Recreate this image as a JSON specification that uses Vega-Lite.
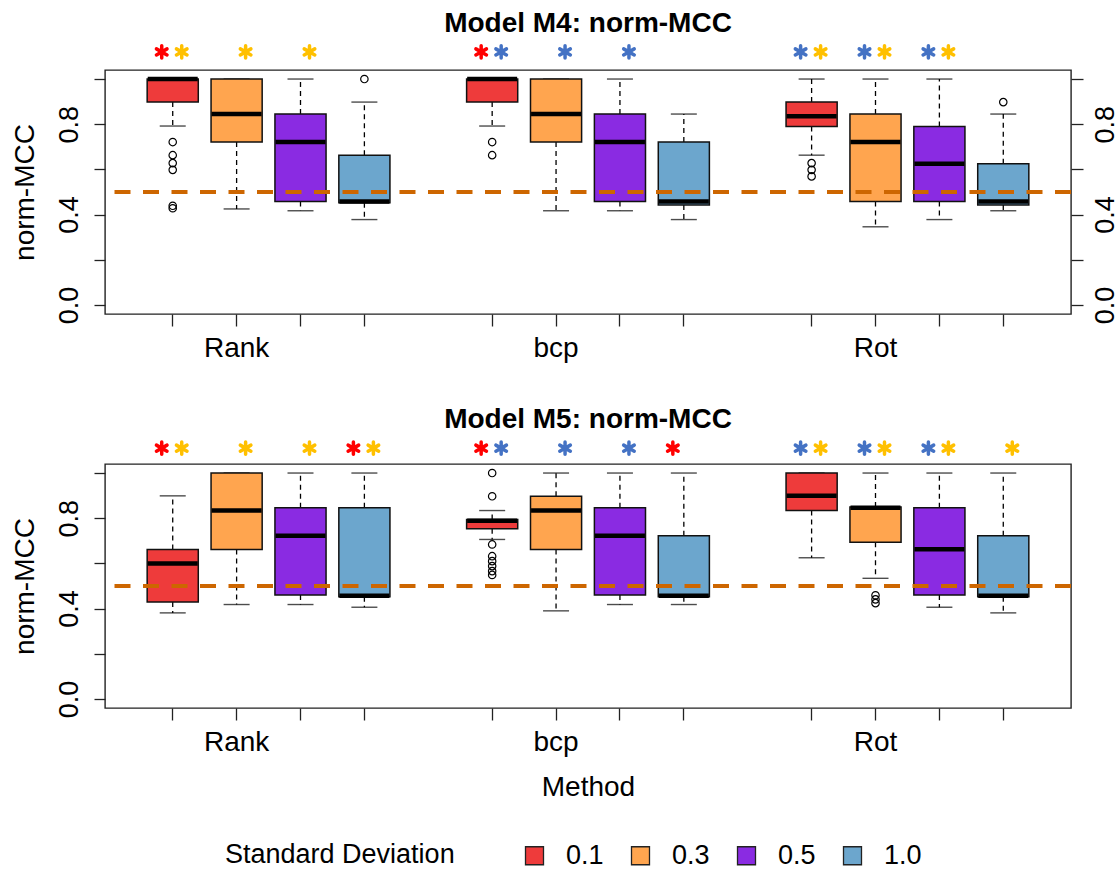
{
  "$schema": "https://vega.github.io/schema/vega-lite/v6.json",
  "padding": {"left": 10, "top": 9, "right": 0, "bottom": 0},
  "background": "white",
  "config": {
    "font": "Liberation Sans",
    "view": {"stroke": "#222222", "strokeWidth": 1.4},
    "axis": {"grid": false, "domain": false, "tickColor": "#222222", "tickWidth": 1.3, "labelColor": "black", "titleColor": "black", "titleFontWeight": "normal"}
  },
  "datasets": {
    "stats": [
      {"model": "M4", "method": "Rank", "sd": "0.1", "lo": 0.792, "q1": 0.898, "med": 1.0, "q3": 1.0, "hi": 1.0},
      {"model": "M4", "method": "Rank", "sd": "0.3", "lo": 0.425, "q1": 0.721, "med": 0.845, "q3": 1.0, "hi": 1.0},
      {"model": "M4", "method": "Rank", "sd": "0.5", "lo": 0.417, "q1": 0.458, "med": 0.721, "q3": 0.845, "hi": 1.0},
      {"model": "M4", "method": "Rank", "sd": "1.0", "lo": 0.378, "q1": 0.452, "med": 0.458, "q3": 0.663, "hi": 0.898},
      {"model": "M4", "method": "bcp", "sd": "0.1", "lo": 0.792, "q1": 0.898, "med": 1.0, "q3": 1.0, "hi": 1.0},
      {"model": "M4", "method": "bcp", "sd": "0.3", "lo": 0.417, "q1": 0.721, "med": 0.845, "q3": 1.0, "hi": 1.0},
      {"model": "M4", "method": "bcp", "sd": "0.5", "lo": 0.417, "q1": 0.458, "med": 0.721, "q3": 0.845, "hi": 1.0},
      {"model": "M4", "method": "bcp", "sd": "1.0", "lo": 0.378, "q1": 0.442, "med": 0.458, "q3": 0.721, "hi": 0.845},
      {"model": "M4", "method": "Rot", "sd": "0.1", "lo": 0.663, "q1": 0.79, "med": 0.835, "q3": 0.898, "hi": 1.0},
      {"model": "M4", "method": "Rot", "sd": "0.3", "lo": 0.346, "q1": 0.458, "med": 0.721, "q3": 0.845, "hi": 1.0},
      {"model": "M4", "method": "Rot", "sd": "0.5", "lo": 0.378, "q1": 0.458, "med": 0.625, "q3": 0.79, "hi": 1.0},
      {"model": "M4", "method": "Rot", "sd": "1.0", "lo": 0.417, "q1": 0.442, "med": 0.458, "q3": 0.625, "hi": 0.845},
      {"model": "M5", "method": "Rank", "sd": "0.1", "lo": 0.381, "q1": 0.429, "med": 0.6, "q3": 0.662, "hi": 0.899},
      {"model": "M5", "method": "Rank", "sd": "0.3", "lo": 0.418, "q1": 0.662, "med": 0.834, "q3": 1.0, "hi": 1.0},
      {"model": "M5", "method": "Rank", "sd": "0.5", "lo": 0.418, "q1": 0.46, "med": 0.722, "q3": 0.846, "hi": 1.0},
      {"model": "M5", "method": "Rank", "sd": "1.0", "lo": 0.406, "q1": 0.452, "med": 0.457, "q3": 0.846, "hi": 1.0},
      {"model": "M5", "method": "bcp", "sd": "0.1", "lo": 0.706, "q1": 0.753, "med": 0.789, "q3": 0.794, "hi": 0.834},
      {"model": "M5", "method": "bcp", "sd": "0.3", "lo": 0.39, "q1": 0.662, "med": 0.834, "q3": 0.897, "hi": 1.0},
      {"model": "M5", "method": "bcp", "sd": "0.5", "lo": 0.418, "q1": 0.46, "med": 0.722, "q3": 0.846, "hi": 1.0},
      {"model": "M5", "method": "bcp", "sd": "1.0", "lo": 0.418, "q1": 0.452, "med": 0.457, "q3": 0.722, "hi": 1.0},
      {"model": "M5", "method": "Rot", "sd": "0.1", "lo": 0.625, "q1": 0.834, "med": 0.899, "q3": 1.0, "hi": 1.0},
      {"model": "M5", "method": "Rot", "sd": "0.3", "lo": 0.534, "q1": 0.694, "med": 0.846, "q3": 0.85, "hi": 1.0},
      {"model": "M5", "method": "Rot", "sd": "0.5", "lo": 0.406, "q1": 0.46, "med": 0.663, "q3": 0.846, "hi": 1.0},
      {"model": "M5", "method": "Rot", "sd": "1.0", "lo": 0.381, "q1": 0.452, "med": 0.457, "q3": 0.722, "hi": 1.0}
    ],
    "outliers": [
      {"model": "M4", "method": "Rank", "sd": "0.1", "v": 0.721},
      {"model": "M4", "method": "Rank", "sd": "0.1", "v": 0.663},
      {"model": "M4", "method": "Rank", "sd": "0.1", "v": 0.628},
      {"model": "M4", "method": "Rank", "sd": "0.1", "v": 0.598},
      {"model": "M4", "method": "Rank", "sd": "0.1", "v": 0.439},
      {"model": "M4", "method": "Rank", "sd": "0.1", "v": 0.428},
      {"model": "M4", "method": "Rank", "sd": "1.0", "v": 1.0},
      {"model": "M4", "method": "bcp", "sd": "0.1", "v": 0.721},
      {"model": "M4", "method": "bcp", "sd": "0.1", "v": 0.663},
      {"model": "M4", "method": "Rot", "sd": "0.1", "v": 0.628},
      {"model": "M4", "method": "Rot", "sd": "0.1", "v": 0.598},
      {"model": "M4", "method": "Rot", "sd": "0.1", "v": 0.569},
      {"model": "M4", "method": "Rot", "sd": "1.0", "v": 0.898},
      {"model": "M5", "method": "bcp", "sd": "0.1", "v": 1.0},
      {"model": "M5", "method": "bcp", "sd": "0.1", "v": 0.897},
      {"model": "M5", "method": "bcp", "sd": "0.1", "v": 0.684},
      {"model": "M5", "method": "bcp", "sd": "0.1", "v": 0.632},
      {"model": "M5", "method": "bcp", "sd": "0.1", "v": 0.61},
      {"model": "M5", "method": "bcp", "sd": "0.1", "v": 0.588},
      {"model": "M5", "method": "bcp", "sd": "0.1", "v": 0.566},
      {"model": "M5", "method": "bcp", "sd": "0.1", "v": 0.549},
      {"model": "M5", "method": "Rot", "sd": "0.3", "v": 0.459},
      {"model": "M5", "method": "Rot", "sd": "0.3", "v": 0.441},
      {"model": "M5", "method": "Rot", "sd": "0.3", "v": 0.424}
    ],
    "stars": [
      {"model": "M4", "method": "Rank", "sd": "0.1", "slot": "L", "group": "red"},
      {"model": "M4", "method": "Rank", "sd": "0.1", "slot": "R", "group": "gold"},
      {"model": "M4", "method": "Rank", "sd": "0.3", "slot": "R", "group": "gold"},
      {"model": "M4", "method": "Rank", "sd": "0.5", "slot": "R", "group": "gold"},
      {"model": "M4", "method": "bcp", "sd": "0.1", "slot": "L", "group": "red"},
      {"model": "M4", "method": "bcp", "sd": "0.1", "slot": "R", "group": "blue"},
      {"model": "M4", "method": "bcp", "sd": "0.3", "slot": "R", "group": "blue"},
      {"model": "M4", "method": "bcp", "sd": "0.5", "slot": "R", "group": "blue"},
      {"model": "M4", "method": "Rot", "sd": "0.1", "slot": "L", "group": "blue"},
      {"model": "M4", "method": "Rot", "sd": "0.1", "slot": "R", "group": "gold"},
      {"model": "M4", "method": "Rot", "sd": "0.3", "slot": "L", "group": "blue"},
      {"model": "M4", "method": "Rot", "sd": "0.3", "slot": "R", "group": "gold"},
      {"model": "M4", "method": "Rot", "sd": "0.5", "slot": "L", "group": "blue"},
      {"model": "M4", "method": "Rot", "sd": "0.5", "slot": "R", "group": "gold"},
      {"model": "M5", "method": "Rank", "sd": "0.1", "slot": "L", "group": "red"},
      {"model": "M5", "method": "Rank", "sd": "0.1", "slot": "R", "group": "gold"},
      {"model": "M5", "method": "Rank", "sd": "0.3", "slot": "R", "group": "gold"},
      {"model": "M5", "method": "Rank", "sd": "0.5", "slot": "R", "group": "gold"},
      {"model": "M5", "method": "Rank", "sd": "1.0", "slot": "L", "group": "red"},
      {"model": "M5", "method": "Rank", "sd": "1.0", "slot": "R", "group": "gold"},
      {"model": "M5", "method": "bcp", "sd": "0.1", "slot": "L", "group": "red"},
      {"model": "M5", "method": "bcp", "sd": "0.1", "slot": "R", "group": "blue"},
      {"model": "M5", "method": "bcp", "sd": "0.3", "slot": "R", "group": "blue"},
      {"model": "M5", "method": "bcp", "sd": "0.5", "slot": "R", "group": "blue"},
      {"model": "M5", "method": "bcp", "sd": "1.0", "slot": "L", "group": "red"},
      {"model": "M5", "method": "Rot", "sd": "0.1", "slot": "L", "group": "blue"},
      {"model": "M5", "method": "Rot", "sd": "0.1", "slot": "R", "group": "gold"},
      {"model": "M5", "method": "Rot", "sd": "0.3", "slot": "L", "group": "blue"},
      {"model": "M5", "method": "Rot", "sd": "0.3", "slot": "R", "group": "gold"},
      {"model": "M5", "method": "Rot", "sd": "0.5", "slot": "L", "group": "blue"},
      {"model": "M5", "method": "Rot", "sd": "0.5", "slot": "R", "group": "gold"},
      {"model": "M5", "method": "Rot", "sd": "1.0", "slot": "R", "group": "gold"}
    ]
  },
  "bounds": "flush",
  "spacing": 150,
  "vconcat": [
    {
      "width": 966,
      "height": 244,
      "title": {"text": "Model M4: norm-MCC", "fontSize": 28, "fontWeight": "bold", "anchor": "middle", "frame": "group", "baseline": "alphabetic", "offset": -21, "color": "black"},
      "resolve": {"axis": {"y": "independent"}},
      "layer": [
        {
          "data": {"name": "stats"},
          "transform": [{"filter": "datum.model == 'M4'"}, {"calculate": "datum.method + ' ' + datum.sd", "as": "key"}],
          "mark": {"type": "rule", "color": "black", "strokeWidth": 1.3, "strokeDash": [5, 4]},
          "encoding": {
            "x": {"field": "key", "type": "nominal", "scale": {"domain": ["Rank 0.1", "Rank 0.3", "Rank 0.5", "Rank 1.0", "gap1", "bcp 0.1", "bcp 0.3", "bcp 0.5", "bcp 1.0", "gap2", "Rot 0.1", "Rot 0.3", "Rot 0.5", "Rot 1.0"], "paddingInner": 0, "paddingOuter": 0.56}, "axis": {"values": ["Rank 0.1", "Rank 0.3", "Rank 0.5", "Rank 1.0", "bcp 0.1", "bcp 0.3", "bcp 0.5", "bcp 1.0", "Rot 0.1", "Rot 0.3", "Rot 0.5", "Rot 1.0"], "labelExpr": "datum.value == 'Rank 0.3' ? 'Rank' : datum.value == 'bcp 0.3' ? 'bcp' : datum.value == 'Rot 0.3' ? 'Rot' : ''", "title": null, "tickSize": 12, "labelPadding": 30, "labelBaseline": "alphabetic", "labelAngle": 0, "labelFontSize": 28}},
            "y": {"field": "q3", "type": "quantitative", "scale": {"domain": [-0.04, 1.04], "nice": false, "zero": false}, "axis": null},
            "y2": {"field": "hi"}
          }
        },
        {
          "data": {"name": "stats"},
          "transform": [{"filter": "datum.model == 'M4'"}, {"calculate": "datum.method + ' ' + datum.sd", "as": "key"}],
          "mark": {"type": "rule", "color": "black", "strokeWidth": 1.3, "strokeDash": [5, 4]},
          "encoding": {
            "x": {"field": "key", "type": "nominal", "scale": {"domain": ["Rank 0.1", "Rank 0.3", "Rank 0.5", "Rank 1.0", "gap1", "bcp 0.1", "bcp 0.3", "bcp 0.5", "bcp 1.0", "gap2", "Rot 0.1", "Rot 0.3", "Rot 0.5", "Rot 1.0"], "paddingInner": 0, "paddingOuter": 0.56}, "axis": {"values": ["Rank 0.1", "Rank 0.3", "Rank 0.5", "Rank 1.0", "bcp 0.1", "bcp 0.3", "bcp 0.5", "bcp 1.0", "Rot 0.1", "Rot 0.3", "Rot 0.5", "Rot 1.0"], "labelExpr": "datum.value == 'Rank 0.3' ? 'Rank' : datum.value == 'bcp 0.3' ? 'bcp' : datum.value == 'Rot 0.3' ? 'Rot' : ''", "title": null, "tickSize": 12, "labelPadding": 30, "labelBaseline": "alphabetic", "labelAngle": 0, "labelFontSize": 28}},
            "y": {"field": "q1", "type": "quantitative", "scale": {"domain": [-0.04, 1.04], "nice": false, "zero": false}, "axis": null},
            "y2": {"field": "lo"}
          }
        },
        {
          "data": {"name": "stats"},
          "transform": [{"filter": "datum.model == 'M4'"}, {"calculate": "datum.method + ' ' + datum.sd", "as": "key"}, {"fold": ["lo", "hi"], "as": ["end", "whisker"]}],
          "mark": {"type": "tick", "color": "black", "size": 26, "thickness": 1.4, "orient": "horizontal"},
          "encoding": {
            "x": {"field": "key", "type": "nominal", "scale": {"domain": ["Rank 0.1", "Rank 0.3", "Rank 0.5", "Rank 1.0", "gap1", "bcp 0.1", "bcp 0.3", "bcp 0.5", "bcp 1.0", "gap2", "Rot 0.1", "Rot 0.3", "Rot 0.5", "Rot 1.0"], "paddingInner": 0, "paddingOuter": 0.56}, "axis": {"values": ["Rank 0.1", "Rank 0.3", "Rank 0.5", "Rank 1.0", "bcp 0.1", "bcp 0.3", "bcp 0.5", "bcp 1.0", "Rot 0.1", "Rot 0.3", "Rot 0.5", "Rot 1.0"], "labelExpr": "datum.value == 'Rank 0.3' ? 'Rank' : datum.value == 'bcp 0.3' ? 'bcp' : datum.value == 'Rot 0.3' ? 'Rot' : ''", "title": null, "tickSize": 12, "labelPadding": 30, "labelBaseline": "alphabetic", "labelAngle": 0, "labelFontSize": 28}},
            "y": {"field": "whisker", "type": "quantitative", "scale": {"domain": [-0.04, 1.04], "nice": false, "zero": false}, "axis": null}
          }
        },
        {
          "data": {"name": "stats"},
          "transform": [{"filter": "datum.model == 'M4'"}, {"calculate": "datum.method + ' ' + datum.sd", "as": "key"}],
          "mark": {"type": "bar", "stroke": "#111111", "strokeWidth": 1.5, "width": {"band": 0.8}},
          "encoding": {
            "x": {"field": "key", "type": "nominal", "scale": {"domain": ["Rank 0.1", "Rank 0.3", "Rank 0.5", "Rank 1.0", "gap1", "bcp 0.1", "bcp 0.3", "bcp 0.5", "bcp 1.0", "gap2", "Rot 0.1", "Rot 0.3", "Rot 0.5", "Rot 1.0"], "paddingInner": 0, "paddingOuter": 0.56}, "axis": {"values": ["Rank 0.1", "Rank 0.3", "Rank 0.5", "Rank 1.0", "bcp 0.1", "bcp 0.3", "bcp 0.5", "bcp 1.0", "Rot 0.1", "Rot 0.3", "Rot 0.5", "Rot 1.0"], "labelExpr": "datum.value == 'Rank 0.3' ? 'Rank' : datum.value == 'bcp 0.3' ? 'bcp' : datum.value == 'Rot 0.3' ? 'Rot' : ''", "title": null, "tickSize": 12, "labelPadding": 30, "labelBaseline": "alphabetic", "labelAngle": 0, "labelFontSize": 28}},
            "y": {"field": "q1", "type": "quantitative", "scale": {"domain": [-0.04, 1.04], "nice": false, "zero": false}, "axis": {"orient": "left", "values": [0, 0.2, 0.4, 0.6, 0.8, 1.0], "labelExpr": "(abs(datum.value) < 0.01 || abs(datum.value - 0.4) < 0.01 || abs(datum.value - 0.8) < 0.01) ? format(datum.value, '.1f') : ''", "labelAngle": -90, "labelAlign": "center", "labelBaseline": "alphabetic", "tickSize": 11, "labelPadding": 17, "labelFontSize": 27, "labelOverlap": false, "title": "norm-MCC", "titleFontSize": 28, "titleBaseline": "alphabetic", "titlePadding": 22}},
            "y2": {"field": "q3"},
            "color": {"field": "sd", "type": "nominal", "scale": {"domain": ["0.1", "0.3", "0.5", "1.0"], "range": ["#EE3B3B", "#FFA54F", "#8A2BE2", "#6CA6CD"]}, "legend": {"title": "Standard Deviation", "orient": "none", "legendX": 120, "legendY": 772, "direction": "horizontal", "titleOrient": "left", "titleFontSize": 27, "titleFontWeight": "normal", "titleColor": "black", "titleLimit": 500, "titlePadding": 66, "titleBaseline": "middle", "labelFontSize": 27, "labelColor": "black", "labelOffset": 18, "columnPadding": 23, "symbolType": "square", "symbolSize": 324, "symbolStrokeColor": "#222222", "symbolStrokeWidth": 1.3, "symbolOpacity": 1}}
          }
        },
        {
          "data": {"name": "stats"},
          "transform": [{"filter": "datum.model == 'M4'"}, {"calculate": "datum.method + ' ' + datum.sd", "as": "key"}],
          "mark": {"type": "tick", "color": "black", "size": 50, "thickness": 4.5, "orient": "horizontal", "opacity": 1},
          "encoding": {
            "x": {"field": "key", "type": "nominal", "scale": {"domain": ["Rank 0.1", "Rank 0.3", "Rank 0.5", "Rank 1.0", "gap1", "bcp 0.1", "bcp 0.3", "bcp 0.5", "bcp 1.0", "gap2", "Rot 0.1", "Rot 0.3", "Rot 0.5", "Rot 1.0"], "paddingInner": 0, "paddingOuter": 0.56}, "axis": {"values": ["Rank 0.1", "Rank 0.3", "Rank 0.5", "Rank 1.0", "bcp 0.1", "bcp 0.3", "bcp 0.5", "bcp 1.0", "Rot 0.1", "Rot 0.3", "Rot 0.5", "Rot 1.0"], "labelExpr": "datum.value == 'Rank 0.3' ? 'Rank' : datum.value == 'bcp 0.3' ? 'bcp' : datum.value == 'Rot 0.3' ? 'Rot' : ''", "title": null, "tickSize": 12, "labelPadding": 30, "labelBaseline": "alphabetic", "labelAngle": 0, "labelFontSize": 28}},
            "y": {"field": "med", "type": "quantitative", "scale": {"domain": [-0.04, 1.04], "nice": false, "zero": false}, "axis": null}
          }
        },
        {
          "data": {"name": "outliers"},
          "transform": [{"filter": "datum.model == 'M4'"}, {"calculate": "datum.method + ' ' + datum.sd", "as": "key"}],
          "mark": {"type": "point", "shape": "circle", "filled": false, "stroke": "black", "strokeWidth": 1.2, "size": 55, "opacity": 1},
          "encoding": {
            "x": {"field": "key", "type": "nominal", "scale": {"domain": ["Rank 0.1", "Rank 0.3", "Rank 0.5", "Rank 1.0", "gap1", "bcp 0.1", "bcp 0.3", "bcp 0.5", "bcp 1.0", "gap2", "Rot 0.1", "Rot 0.3", "Rot 0.5", "Rot 1.0"], "paddingInner": 0, "paddingOuter": 0.56}, "axis": {"values": ["Rank 0.1", "Rank 0.3", "Rank 0.5", "Rank 1.0", "bcp 0.1", "bcp 0.3", "bcp 0.5", "bcp 1.0", "Rot 0.1", "Rot 0.3", "Rot 0.5", "Rot 1.0"], "labelExpr": "datum.value == 'Rank 0.3' ? 'Rank' : datum.value == 'bcp 0.3' ? 'bcp' : datum.value == 'Rot 0.3' ? 'Rot' : ''", "title": null, "tickSize": 12, "labelPadding": 30, "labelBaseline": "alphabetic", "labelAngle": 0, "labelFontSize": 28}},
            "y": {"field": "v", "type": "quantitative", "scale": {"domain": [-0.04, 1.04], "nice": false, "zero": false}, "axis": {"orient": "right", "values": [0, 0.2, 0.4, 0.6, 0.8, 1.0], "labelExpr": "(abs(datum.value) < 0.01 || abs(datum.value - 0.4) < 0.01 || abs(datum.value - 0.8) < 0.01) ? format(datum.value, '.1f') : ''", "labelAngle": -90, "labelAlign": "center", "labelBaseline": "alphabetic", "tickSize": 12, "labelPadding": 30, "labelFontSize": 27, "labelOverlap": false, "title": null}}
          }
        },
        {
          "data": {"values": [{}]},
          "mark": {"type": "rule", "color": "#CD6600", "strokeWidth": 4, "strokeDash": [16, 12.5]},
          "encoding": {
            "y": {"datum": 0.5, "type": "quantitative", "scale": {"domain": [-0.04, 1.04], "nice": false, "zero": false}, "axis": null}
          }
        },
        {
          "data": {"name": "stars"},
          "transform": [{"filter": "datum.model == 'M4'"}, {"calculate": "datum.method + ' ' + datum.sd", "as": "key"}],
          "mark": {"type": "point", "filled": false, "strokeWidth": 3.5, "strokeCap": "round", "size": 150, "opacity": 1},
          "encoding": {
            "x": {"field": "key", "type": "nominal", "scale": {"domain": ["Rank 0.1", "Rank 0.3", "Rank 0.5", "Rank 1.0", "gap1", "bcp 0.1", "bcp 0.3", "bcp 0.5", "bcp 1.0", "gap2", "Rot 0.1", "Rot 0.3", "Rot 0.5", "Rot 1.0"], "paddingInner": 0, "paddingOuter": 0.56}, "axis": {"values": ["Rank 0.1", "Rank 0.3", "Rank 0.5", "Rank 1.0", "bcp 0.1", "bcp 0.3", "bcp 0.5", "bcp 1.0", "Rot 0.1", "Rot 0.3", "Rot 0.5", "Rot 1.0"], "labelExpr": "datum.value == 'Rank 0.3' ? 'Rank' : datum.value == 'bcp 0.3' ? 'bcp' : datum.value == 'Rot 0.3' ? 'Rot' : ''", "title": null, "tickSize": 12, "labelPadding": 30, "labelBaseline": "alphabetic", "labelAngle": 0, "labelFontSize": 28}},
            "shape": {"field": "slot", "type": "nominal", "scale": {"domain": ["L", "R"], "range": ["M-1.796,-1L-1.796,1M-2.662,-0.5L-0.93,0.5M-2.662,0.5L-0.93,-0.5", "M1.47,-1L1.47,1M0.604,-0.5L2.336,0.5M0.604,0.5L2.336,-0.5"]}, "legend": null},
            "y": {"datum": 1.12, "type": "quantitative", "scale": {"domain": [-0.04, 1.04], "nice": false, "zero": false}, "axis": null},
            "stroke": {"field": "group", "type": "nominal", "scale": {"domain": ["red", "gold", "blue"], "range": ["#FF0000", "#FFC000", "#4472C4"]}, "legend": null}
          }
        }
      ]
    },
    {
      "width": 966,
      "height": 244,
      "title": {"text": "Model M5: norm-MCC", "fontSize": 28, "fontWeight": "bold", "anchor": "middle", "frame": "group", "baseline": "alphabetic", "offset": -21, "color": "black"},
      "resolve": {"axis": {"y": "independent"}},
      "layer": [
        {
          "data": {"name": "stats"},
          "transform": [{"filter": "datum.model == 'M5'"}, {"calculate": "datum.method + ' ' + datum.sd", "as": "key"}],
          "mark": {"type": "rule", "color": "black", "strokeWidth": 1.3, "strokeDash": [5, 4]},
          "encoding": {
            "x": {"field": "key", "type": "nominal", "scale": {"domain": ["Rank 0.1", "Rank 0.3", "Rank 0.5", "Rank 1.0", "gap1", "bcp 0.1", "bcp 0.3", "bcp 0.5", "bcp 1.0", "gap2", "Rot 0.1", "Rot 0.3", "Rot 0.5", "Rot 1.0"], "paddingInner": 0, "paddingOuter": 0.56}, "axis": {"values": ["Rank 0.1", "Rank 0.3", "Rank 0.5", "Rank 1.0", "bcp 0.1", "bcp 0.3", "bcp 0.5", "bcp 1.0", "Rot 0.1", "Rot 0.3", "Rot 0.5", "Rot 1.0"], "labelExpr": "datum.value == 'Rank 0.3' ? 'Rank' : datum.value == 'bcp 0.3' ? 'bcp' : datum.value == 'Rot 0.3' ? 'Rot' : ''", "title": "Method", "titleFontSize": 28, "titleBaseline": "alphabetic", "titlePadding": 39, "tickSize": 12, "labelPadding": 30, "labelBaseline": "alphabetic", "labelAngle": 0, "labelFontSize": 28}},
            "y": {"field": "q3", "type": "quantitative", "scale": {"domain": [-0.04, 1.04], "nice": false, "zero": false}, "axis": null},
            "y2": {"field": "hi"}
          }
        },
        {
          "data": {"name": "stats"},
          "transform": [{"filter": "datum.model == 'M5'"}, {"calculate": "datum.method + ' ' + datum.sd", "as": "key"}],
          "mark": {"type": "rule", "color": "black", "strokeWidth": 1.3, "strokeDash": [5, 4]},
          "encoding": {
            "x": {"field": "key", "type": "nominal", "scale": {"domain": ["Rank 0.1", "Rank 0.3", "Rank 0.5", "Rank 1.0", "gap1", "bcp 0.1", "bcp 0.3", "bcp 0.5", "bcp 1.0", "gap2", "Rot 0.1", "Rot 0.3", "Rot 0.5", "Rot 1.0"], "paddingInner": 0, "paddingOuter": 0.56}, "axis": {"values": ["Rank 0.1", "Rank 0.3", "Rank 0.5", "Rank 1.0", "bcp 0.1", "bcp 0.3", "bcp 0.5", "bcp 1.0", "Rot 0.1", "Rot 0.3", "Rot 0.5", "Rot 1.0"], "labelExpr": "datum.value == 'Rank 0.3' ? 'Rank' : datum.value == 'bcp 0.3' ? 'bcp' : datum.value == 'Rot 0.3' ? 'Rot' : ''", "title": "Method", "titleFontSize": 28, "titleBaseline": "alphabetic", "titlePadding": 39, "tickSize": 12, "labelPadding": 30, "labelBaseline": "alphabetic", "labelAngle": 0, "labelFontSize": 28}},
            "y": {"field": "q1", "type": "quantitative", "scale": {"domain": [-0.04, 1.04], "nice": false, "zero": false}, "axis": null},
            "y2": {"field": "lo"}
          }
        },
        {
          "data": {"name": "stats"},
          "transform": [{"filter": "datum.model == 'M5'"}, {"calculate": "datum.method + ' ' + datum.sd", "as": "key"}, {"fold": ["lo", "hi"], "as": ["end", "whisker"]}],
          "mark": {"type": "tick", "color": "black", "size": 26, "thickness": 1.4, "orient": "horizontal"},
          "encoding": {
            "x": {"field": "key", "type": "nominal", "scale": {"domain": ["Rank 0.1", "Rank 0.3", "Rank 0.5", "Rank 1.0", "gap1", "bcp 0.1", "bcp 0.3", "bcp 0.5", "bcp 1.0", "gap2", "Rot 0.1", "Rot 0.3", "Rot 0.5", "Rot 1.0"], "paddingInner": 0, "paddingOuter": 0.56}, "axis": {"values": ["Rank 0.1", "Rank 0.3", "Rank 0.5", "Rank 1.0", "bcp 0.1", "bcp 0.3", "bcp 0.5", "bcp 1.0", "Rot 0.1", "Rot 0.3", "Rot 0.5", "Rot 1.0"], "labelExpr": "datum.value == 'Rank 0.3' ? 'Rank' : datum.value == 'bcp 0.3' ? 'bcp' : datum.value == 'Rot 0.3' ? 'Rot' : ''", "title": "Method", "titleFontSize": 28, "titleBaseline": "alphabetic", "titlePadding": 39, "tickSize": 12, "labelPadding": 30, "labelBaseline": "alphabetic", "labelAngle": 0, "labelFontSize": 28}},
            "y": {"field": "whisker", "type": "quantitative", "scale": {"domain": [-0.04, 1.04], "nice": false, "zero": false}, "axis": null}
          }
        },
        {
          "data": {"name": "stats"},
          "transform": [{"filter": "datum.model == 'M5'"}, {"calculate": "datum.method + ' ' + datum.sd", "as": "key"}],
          "mark": {"type": "bar", "stroke": "#111111", "strokeWidth": 1.5, "width": {"band": 0.8}},
          "encoding": {
            "x": {"field": "key", "type": "nominal", "scale": {"domain": ["Rank 0.1", "Rank 0.3", "Rank 0.5", "Rank 1.0", "gap1", "bcp 0.1", "bcp 0.3", "bcp 0.5", "bcp 1.0", "gap2", "Rot 0.1", "Rot 0.3", "Rot 0.5", "Rot 1.0"], "paddingInner": 0, "paddingOuter": 0.56}, "axis": {"values": ["Rank 0.1", "Rank 0.3", "Rank 0.5", "Rank 1.0", "bcp 0.1", "bcp 0.3", "bcp 0.5", "bcp 1.0", "Rot 0.1", "Rot 0.3", "Rot 0.5", "Rot 1.0"], "labelExpr": "datum.value == 'Rank 0.3' ? 'Rank' : datum.value == 'bcp 0.3' ? 'bcp' : datum.value == 'Rot 0.3' ? 'Rot' : ''", "title": "Method", "titleFontSize": 28, "titleBaseline": "alphabetic", "titlePadding": 39, "tickSize": 12, "labelPadding": 30, "labelBaseline": "alphabetic", "labelAngle": 0, "labelFontSize": 28}},
            "y": {"field": "q1", "type": "quantitative", "scale": {"domain": [-0.04, 1.04], "nice": false, "zero": false}, "axis": {"orient": "left", "values": [0, 0.2, 0.4, 0.6, 0.8, 1.0], "labelExpr": "(abs(datum.value) < 0.01 || abs(datum.value - 0.4) < 0.01 || abs(datum.value - 0.8) < 0.01) ? format(datum.value, '.1f') : ''", "labelAngle": -90, "labelAlign": "center", "labelBaseline": "alphabetic", "tickSize": 11, "labelPadding": 17, "labelFontSize": 27, "labelOverlap": false, "title": "norm-MCC", "titleFontSize": 28, "titleBaseline": "alphabetic", "titlePadding": 22}},
            "y2": {"field": "q3"},
            "color": {"field": "sd", "type": "nominal", "scale": {"domain": ["0.1", "0.3", "0.5", "1.0"], "range": ["#EE3B3B", "#FFA54F", "#8A2BE2", "#6CA6CD"]}, "legend": {"title": "Standard Deviation", "orient": "none", "legendX": 120, "legendY": 772, "direction": "horizontal", "titleOrient": "left", "titleFontSize": 27, "titleFontWeight": "normal", "titleColor": "black", "titleLimit": 500, "titlePadding": 66, "titleBaseline": "middle", "labelFontSize": 27, "labelColor": "black", "labelOffset": 18, "columnPadding": 23, "symbolType": "square", "symbolSize": 324, "symbolStrokeColor": "#222222", "symbolStrokeWidth": 1.3, "symbolOpacity": 1}}
          }
        },
        {
          "data": {"name": "stats"},
          "transform": [{"filter": "datum.model == 'M5'"}, {"calculate": "datum.method + ' ' + datum.sd", "as": "key"}],
          "mark": {"type": "tick", "color": "black", "size": 50, "thickness": 4.5, "orient": "horizontal", "opacity": 1},
          "encoding": {
            "x": {"field": "key", "type": "nominal", "scale": {"domain": ["Rank 0.1", "Rank 0.3", "Rank 0.5", "Rank 1.0", "gap1", "bcp 0.1", "bcp 0.3", "bcp 0.5", "bcp 1.0", "gap2", "Rot 0.1", "Rot 0.3", "Rot 0.5", "Rot 1.0"], "paddingInner": 0, "paddingOuter": 0.56}, "axis": {"values": ["Rank 0.1", "Rank 0.3", "Rank 0.5", "Rank 1.0", "bcp 0.1", "bcp 0.3", "bcp 0.5", "bcp 1.0", "Rot 0.1", "Rot 0.3", "Rot 0.5", "Rot 1.0"], "labelExpr": "datum.value == 'Rank 0.3' ? 'Rank' : datum.value == 'bcp 0.3' ? 'bcp' : datum.value == 'Rot 0.3' ? 'Rot' : ''", "title": "Method", "titleFontSize": 28, "titleBaseline": "alphabetic", "titlePadding": 39, "tickSize": 12, "labelPadding": 30, "labelBaseline": "alphabetic", "labelAngle": 0, "labelFontSize": 28}},
            "y": {"field": "med", "type": "quantitative", "scale": {"domain": [-0.04, 1.04], "nice": false, "zero": false}, "axis": null}
          }
        },
        {
          "data": {"name": "outliers"},
          "transform": [{"filter": "datum.model == 'M5'"}, {"calculate": "datum.method + ' ' + datum.sd", "as": "key"}],
          "mark": {"type": "point", "shape": "circle", "filled": false, "stroke": "black", "strokeWidth": 1.2, "size": 55, "opacity": 1},
          "encoding": {
            "x": {"field": "key", "type": "nominal", "scale": {"domain": ["Rank 0.1", "Rank 0.3", "Rank 0.5", "Rank 1.0", "gap1", "bcp 0.1", "bcp 0.3", "bcp 0.5", "bcp 1.0", "gap2", "Rot 0.1", "Rot 0.3", "Rot 0.5", "Rot 1.0"], "paddingInner": 0, "paddingOuter": 0.56}, "axis": {"values": ["Rank 0.1", "Rank 0.3", "Rank 0.5", "Rank 1.0", "bcp 0.1", "bcp 0.3", "bcp 0.5", "bcp 1.0", "Rot 0.1", "Rot 0.3", "Rot 0.5", "Rot 1.0"], "labelExpr": "datum.value == 'Rank 0.3' ? 'Rank' : datum.value == 'bcp 0.3' ? 'bcp' : datum.value == 'Rot 0.3' ? 'Rot' : ''", "title": "Method", "titleFontSize": 28, "titleBaseline": "alphabetic", "titlePadding": 39, "tickSize": 12, "labelPadding": 30, "labelBaseline": "alphabetic", "labelAngle": 0, "labelFontSize": 28}},
            "y": {"field": "v", "type": "quantitative", "scale": {"domain": [-0.04, 1.04], "nice": false, "zero": false}, "axis": null}
          }
        },
        {
          "data": {"values": [{}]},
          "mark": {"type": "rule", "color": "#CD6600", "strokeWidth": 4, "strokeDash": [16, 12.5]},
          "encoding": {
            "y": {"datum": 0.5, "type": "quantitative", "scale": {"domain": [-0.04, 1.04], "nice": false, "zero": false}, "axis": null}
          }
        },
        {
          "data": {"name": "stars"},
          "transform": [{"filter": "datum.model == 'M5'"}, {"calculate": "datum.method + ' ' + datum.sd", "as": "key"}],
          "mark": {"type": "point", "filled": false, "strokeWidth": 3.5, "strokeCap": "round", "size": 150, "opacity": 1},
          "encoding": {
            "x": {"field": "key", "type": "nominal", "scale": {"domain": ["Rank 0.1", "Rank 0.3", "Rank 0.5", "Rank 1.0", "gap1", "bcp 0.1", "bcp 0.3", "bcp 0.5", "bcp 1.0", "gap2", "Rot 0.1", "Rot 0.3", "Rot 0.5", "Rot 1.0"], "paddingInner": 0, "paddingOuter": 0.56}, "axis": {"values": ["Rank 0.1", "Rank 0.3", "Rank 0.5", "Rank 1.0", "bcp 0.1", "bcp 0.3", "bcp 0.5", "bcp 1.0", "Rot 0.1", "Rot 0.3", "Rot 0.5", "Rot 1.0"], "labelExpr": "datum.value == 'Rank 0.3' ? 'Rank' : datum.value == 'bcp 0.3' ? 'bcp' : datum.value == 'Rot 0.3' ? 'Rot' : ''", "title": "Method", "titleFontSize": 28, "titleBaseline": "alphabetic", "titlePadding": 39, "tickSize": 12, "labelPadding": 30, "labelBaseline": "alphabetic", "labelAngle": 0, "labelFontSize": 28}},
            "shape": {"field": "slot", "type": "nominal", "scale": {"domain": ["L", "R"], "range": ["M-1.796,-1L-1.796,1M-2.662,-0.5L-0.93,0.5M-2.662,0.5L-0.93,-0.5", "M1.47,-1L1.47,1M0.604,-0.5L2.336,0.5M0.604,0.5L2.336,-0.5"]}, "legend": null},
            "y": {"datum": 1.11, "type": "quantitative", "scale": {"domain": [-0.04, 1.04], "nice": false, "zero": false}, "axis": null},
            "stroke": {"field": "group", "type": "nominal", "scale": {"domain": ["red", "gold", "blue"], "range": ["#FF0000", "#FFC000", "#4472C4"]}, "legend": null}
          }
        }
      ]
    }
  ]
}
